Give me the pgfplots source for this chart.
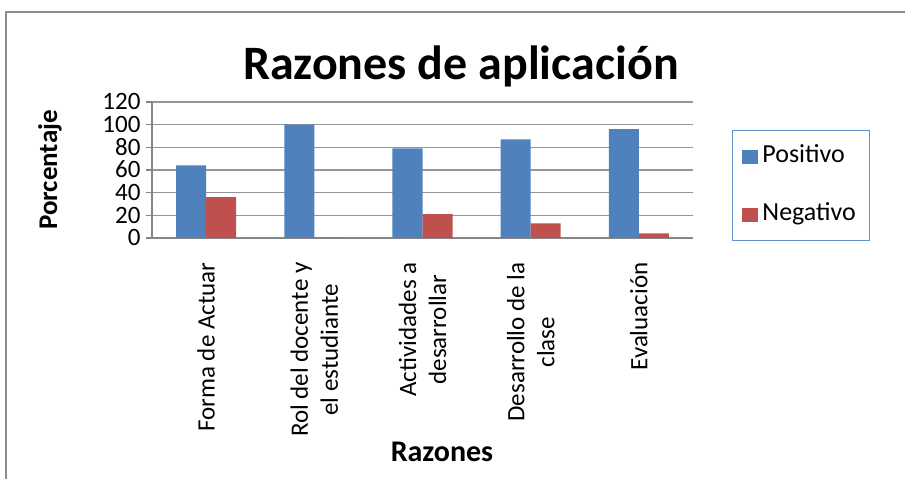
\documentclass[border=0pt]{standalone}
\usepackage{fontspec}
\setmainfont{Carlito}
\usepackage{pgfplots}
\pgfplotsset{compat=1.18}
\definecolor{posblue}{RGB}{79,129,189}
\definecolor{negred}{RGB}{192,80,77}
\definecolor{legborder}{RGB}{100,145,205}
\definecolor{gridgray}{RGB}{150,150,150}
\definecolor{axgray}{RGB}{134,134,134}
\definecolor{framegray}{RGB}{140,140,140}
\begin{document}
\begin{tikzpicture}[x=1pt,y=1pt]
\useasboundingbox (0,0) rectangle (905,479);
\draw[framegray, line width=2pt] (6,-5) -- (6,467) -- (910,467);
\begin{axis}[
  at={(152pt,241pt)}, anchor=south west,
  scale only axis, width=541pt, height=136pt,
  xmin=-0.5, xmax=4.5, ymin=0, ymax=120,
  ytick={0,20,...,120},
  xtick={0,1,2,3,4},
  xticklabels={Forma de Actuar, {Rol del docente y\\el estudiante}, {Actividades a\\desarrollar}, {Desarrollo de la\\clase}, Evaluación},
  ybar=0pt, bar width=30pt,
  axis x line*=bottom, axis y line*=left,
  axis line style={axgray, line width=1.6pt},
  every inner x axis line/.append style={-},
  every inner y axis line/.append style={-},
  ymajorgrids, grid style={gridgray, line width=1.3pt},
  tick align=outside, major tick length=6pt,
  ytick style={axgray, line width=1.2pt},
  xtick style={draw=none},
  /pgf/number format/assume math mode=true,
  yticklabel style={font=\fontsize{25}{25}\selectfont, xshift=-2pt, inner ysep=0pt, text height=16pt, text depth=0pt},
  xticklabel style={font=\fontsize{25}{30}\selectfont, rotate=90, anchor=east, align=center},
  xticklabel shift=15pt,
  ylabel={\bfseries Porcentaje},
  ylabel style={font=\fontsize{27}{27}\selectfont, at={(axis description cs:-0.1885,0.5)}, anchor=center, rotate=0},
  xlabel={\bfseries Razones},
  xlabel style={font=\fontsize{30}{30}\selectfont, at={(axis description cs:0.536,-1.574)}, anchor=center},
  every axis title shift=0pt,
  title={\bfseries Razones de aplicación},
  title style={font=\fontsize{48}{48}\selectfont, at={(axis description cs:0.571,1.169)}, anchor=base},
  legend style={at={(axis description cs:1.072,0.794)}, anchor=north west,
    draw=legborder, line width=1pt, font=\fontsize{26}{26}\selectfont,
    inner xsep=10pt, inner ysep=12pt, row sep=30pt,
    nodes={text height=18pt, text depth=6pt, inner xsep=4pt}},
  legend cell align=left,
]
\addplot[fill=posblue, draw=none, legend image code/.code={\fill[posblue] (0pt,-7pt) rectangle (16pt,7pt);}] coordinates {(0,64) (1,100) (2,79) (3,87) (4,96)};
\addplot[fill=negred, draw=none, legend image code/.code={\fill[negred] (0pt,-7pt) rectangle (16pt,7pt);}] coordinates {(0,36) (1,0) (2,21) (3,13) (4,4)};
\legend{Positivo, Negativo}
\end{axis}
\end{tikzpicture}
\end{document}
